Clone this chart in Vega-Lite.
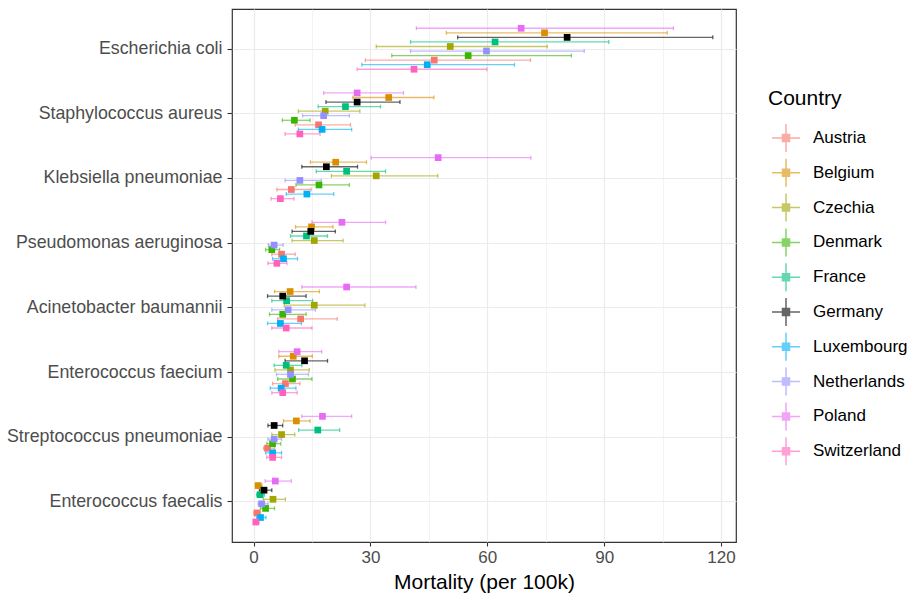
{
  "$schema": "https://vega.github.io/schema/vega-lite/v6.json",
  "width": 504,
  "height": 533,
  "autosize": {"type": "none"},
  "padding": {"left": 232, "top": 9, "right": 178, "bottom": 55},
  "background": "white",
  "config": {
    "font": "Liberation Sans",
    "view": {"stroke": "#333333", "strokeWidth": 1.2},
    "axis": {"domain": false, "tickColor": "#333333", "tickSize": 4, "tickWidth": 1.1, "labelColor": "#4D4D4D", "labelFontSize": 17, "titleFontSize": 21, "titleFontWeight": "normal", "titleColor": "#000000", "gridColor": "#EBEBEB", "labelPadding": 3}
  },
  "data": {"values": [
    {"pathogen": "Escherichia coli", "country": "Austria", "mortality": 46.4, "lower": 28.7, "upper": 71.1},
    {"pathogen": "Escherichia coli", "country": "Belgium", "mortality": 74.7, "lower": 49.5, "upper": 106.2},
    {"pathogen": "Escherichia coli", "country": "Czechia", "mortality": 50.5, "lower": 31.5, "upper": 75.4},
    {"pathogen": "Escherichia coli", "country": "Denmark", "mortality": 55.1, "lower": 35.5, "upper": 81.6},
    {"pathogen": "Escherichia coli", "country": "France", "mortality": 62.0, "lower": 40.3, "upper": 91.2},
    {"pathogen": "Escherichia coli", "country": "Germany", "mortality": 80.5, "lower": 52.4, "upper": 117.9},
    {"pathogen": "Escherichia coli", "country": "Luxembourg", "mortality": 44.6, "lower": 27.8, "upper": 67.0},
    {"pathogen": "Escherichia coli", "country": "Netherlands", "mortality": 59.8, "lower": 40.3, "upper": 84.9},
    {"pathogen": "Escherichia coli", "country": "Poland", "mortality": 68.7, "lower": 41.8, "upper": 107.8},
    {"pathogen": "Escherichia coli", "country": "Switzerland", "mortality": 41.2, "lower": 26.6, "upper": 59.9},
    {"pathogen": "Staphylococcus aureus", "country": "Austria", "mortality": 16.7, "lower": 10.7, "upper": 24.9},
    {"pathogen": "Staphylococcus aureus", "country": "Belgium", "mortality": 34.7, "lower": 25.5, "upper": 46.3},
    {"pathogen": "Staphylococcus aureus", "country": "Czechia", "mortality": 18.4, "lower": 11.5, "upper": 27.3},
    {"pathogen": "Staphylococcus aureus", "country": "Denmark", "mortality": 10.5, "lower": 7.4, "upper": 14.5},
    {"pathogen": "Staphylococcus aureus", "country": "France", "mortality": 23.6, "lower": 16.6, "upper": 32.6},
    {"pathogen": "Staphylococcus aureus", "country": "Germany", "mortality": 26.6, "lower": 18.6, "upper": 37.6},
    {"pathogen": "Staphylococcus aureus", "country": "Luxembourg", "mortality": 17.6, "lower": 11.5, "upper": 25.2},
    {"pathogen": "Staphylococcus aureus", "country": "Netherlands", "mortality": 18.0, "lower": 12.6, "upper": 24.6},
    {"pathogen": "Staphylococcus aureus", "country": "Poland", "mortality": 26.6, "lower": 18.0, "upper": 38.5},
    {"pathogen": "Staphylococcus aureus", "country": "Switzerland", "mortality": 11.9, "lower": 8.1, "upper": 17.1},
    {"pathogen": "Klebsiella pneumoniae", "country": "Austria", "mortality": 9.7, "lower": 6.0, "upper": 14.8},
    {"pathogen": "Klebsiella pneumoniae", "country": "Belgium", "mortality": 21.1, "lower": 14.6, "upper": 29.0},
    {"pathogen": "Klebsiella pneumoniae", "country": "Czechia", "mortality": 31.5, "lower": 20.0, "upper": 47.3},
    {"pathogen": "Klebsiella pneumoniae", "country": "Denmark", "mortality": 16.8, "lower": 10.9, "upper": 24.6},
    {"pathogen": "Klebsiella pneumoniae", "country": "France", "mortality": 23.9, "lower": 16.1, "upper": 33.9},
    {"pathogen": "Klebsiella pneumoniae", "country": "Germany", "mortality": 18.7, "lower": 12.4, "upper": 26.7},
    {"pathogen": "Klebsiella pneumoniae", "country": "Luxembourg", "mortality": 13.7, "lower": 8.4, "upper": 20.6},
    {"pathogen": "Klebsiella pneumoniae", "country": "Netherlands", "mortality": 11.9, "lower": 8.1, "upper": 17.4},
    {"pathogen": "Klebsiella pneumoniae", "country": "Poland", "mortality": 47.4, "lower": 30.2, "upper": 71.2},
    {"pathogen": "Klebsiella pneumoniae", "country": "Switzerland", "mortality": 6.9, "lower": 4.5, "upper": 10.4},
    {"pathogen": "Pseudomonas aeruginosa", "country": "Austria", "mortality": 7.2, "lower": 4.7, "upper": 10.7},
    {"pathogen": "Pseudomonas aeruginosa", "country": "Belgium", "mortality": 14.9, "lower": 10.8, "upper": 20.4},
    {"pathogen": "Pseudomonas aeruginosa", "country": "Czechia", "mortality": 15.6, "lower": 9.9, "upper": 23.0},
    {"pathogen": "Pseudomonas aeruginosa", "country": "Denmark", "mortality": 4.7, "lower": 3.1, "upper": 6.7},
    {"pathogen": "Pseudomonas aeruginosa", "country": "France", "mortality": 13.6, "lower": 9.5, "upper": 19.0},
    {"pathogen": "Pseudomonas aeruginosa", "country": "Germany", "mortality": 14.7, "lower": 9.9, "upper": 21.0},
    {"pathogen": "Pseudomonas aeruginosa", "country": "Luxembourg", "mortality": 7.7, "lower": 4.9, "upper": 11.3},
    {"pathogen": "Pseudomonas aeruginosa", "country": "Netherlands", "mortality": 5.3, "lower": 3.8, "upper": 7.6},
    {"pathogen": "Pseudomonas aeruginosa", "country": "Poland", "mortality": 22.7, "lower": 15.0, "upper": 33.9},
    {"pathogen": "Pseudomonas aeruginosa", "country": "Switzerland", "mortality": 6.0, "lower": 3.7, "upper": 8.6},
    {"pathogen": "Acinetobacter baumannii", "country": "Austria", "mortality": 12.1, "lower": 6.2, "upper": 21.5},
    {"pathogen": "Acinetobacter baumannii", "country": "Belgium", "mortality": 9.4, "lower": 5.4, "upper": 16.9},
    {"pathogen": "Acinetobacter baumannii", "country": "Czechia", "mortality": 15.6, "lower": 7.9, "upper": 28.6},
    {"pathogen": "Acinetobacter baumannii", "country": "Denmark", "mortality": 7.5, "lower": 4.1, "upper": 13.5},
    {"pathogen": "Acinetobacter baumannii", "country": "France", "mortality": 8.5, "lower": 4.7, "upper": 15.2},
    {"pathogen": "Acinetobacter baumannii", "country": "Germany", "mortality": 7.5, "lower": 3.6, "upper": 13.5},
    {"pathogen": "Acinetobacter baumannii", "country": "Luxembourg", "mortality": 6.9, "lower": 3.6, "upper": 12.3},
    {"pathogen": "Acinetobacter baumannii", "country": "Netherlands", "mortality": 8.9, "lower": 4.7, "upper": 15.9},
    {"pathogen": "Acinetobacter baumannii", "country": "Poland", "mortality": 23.9, "lower": 12.4, "upper": 41.7},
    {"pathogen": "Acinetobacter baumannii", "country": "Switzerland", "mortality": 8.4, "lower": 4.7, "upper": 15.0},
    {"pathogen": "Enterococcus faecium", "country": "Austria", "mortality": 8.2, "lower": 4.9, "upper": 11.9},
    {"pathogen": "Enterococcus faecium", "country": "Belgium", "mortality": 10.2, "lower": 6.5, "upper": 15.1},
    {"pathogen": "Enterococcus faecium", "country": "Czechia", "mortality": 9.5, "lower": 5.5, "upper": 14.3},
    {"pathogen": "Enterococcus faecium", "country": "Denmark", "mortality": 10.0, "lower": 6.2, "upper": 15.0},
    {"pathogen": "Enterococcus faecium", "country": "France", "mortality": 8.4, "lower": 5.3, "upper": 12.4},
    {"pathogen": "Enterococcus faecium", "country": "Germany", "mortality": 13.1, "lower": 8.1, "upper": 19.0},
    {"pathogen": "Enterococcus faecium", "country": "Luxembourg", "mortality": 7.1, "lower": 4.3, "upper": 10.9},
    {"pathogen": "Enterococcus faecium", "country": "Netherlands", "mortality": 9.5, "lower": 5.9, "upper": 14.1},
    {"pathogen": "Enterococcus faecium", "country": "Poland", "mortality": 11.2, "lower": 6.5, "upper": 17.5},
    {"pathogen": "Enterococcus faecium", "country": "Switzerland", "mortality": 7.5, "lower": 4.7, "upper": 11.2},
    {"pathogen": "Streptococcus pneumoniae", "country": "Austria", "mortality": 3.6, "lower": 2.6, "upper": 5.4},
    {"pathogen": "Streptococcus pneumoniae", "country": "Belgium", "mortality": 11.0, "lower": 7.7, "upper": 14.5},
    {"pathogen": "Streptococcus pneumoniae", "country": "Czechia", "mortality": 7.2, "lower": 4.7, "upper": 10.6},
    {"pathogen": "Streptococcus pneumoniae", "country": "Denmark", "mortality": 4.9, "lower": 3.4, "upper": 7.0},
    {"pathogen": "Streptococcus pneumoniae", "country": "France", "mortality": 16.5, "lower": 11.6, "upper": 22.1},
    {"pathogen": "Streptococcus pneumoniae", "country": "Germany", "mortality": 5.3, "lower": 3.7, "upper": 7.5},
    {"pathogen": "Streptococcus pneumoniae", "country": "Luxembourg", "mortality": 4.9, "lower": 3.1, "upper": 7.2},
    {"pathogen": "Streptococcus pneumoniae", "country": "Netherlands", "mortality": 5.3, "lower": 3.7, "upper": 7.2},
    {"pathogen": "Streptococcus pneumoniae", "country": "Poland", "mortality": 17.7, "lower": 12.4, "upper": 25.2},
    {"pathogen": "Streptococcus pneumoniae", "country": "Switzerland", "mortality": 4.9, "lower": 3.4, "upper": 7.2},
    {"pathogen": "Enterococcus faecalis", "country": "Austria", "mortality": 0.9, "lower": 0.1, "upper": 1.8},
    {"pathogen": "Enterococcus faecalis", "country": "Belgium", "mortality": 1.2, "lower": 0.5, "upper": 2.2},
    {"pathogen": "Enterococcus faecalis", "country": "Czechia", "mortality": 5.0, "lower": 2.5, "upper": 8.2},
    {"pathogen": "Enterococcus faecalis", "country": "Denmark", "mortality": 3.1, "lower": 1.8, "upper": 5.4},
    {"pathogen": "Enterococcus faecalis", "country": "France", "mortality": 1.7, "lower": 0.8, "upper": 2.8},
    {"pathogen": "Enterococcus faecalis", "country": "Germany", "mortality": 2.7, "lower": 1.5, "upper": 4.7},
    {"pathogen": "Enterococcus faecalis", "country": "Luxembourg", "mortality": 1.8, "lower": 0.8, "upper": 3.2},
    {"pathogen": "Enterococcus faecalis", "country": "Netherlands", "mortality": 2.1, "lower": 1.2, "upper": 3.7},
    {"pathogen": "Enterococcus faecalis", "country": "Poland", "mortality": 5.6, "lower": 3.0, "upper": 9.7},
    {"pathogen": "Enterococcus faecalis", "country": "Switzerland", "mortality": 0.6, "lower": 0.0, "upper": 1.4}
  ]},
  "encoding": {
    "y": {
      "field": "pathogen", "type": "nominal",
      "sort": ["Escherichia coli", "Staphylococcus aureus", "Klebsiella pneumoniae", "Pseudomonas aeruginosa", "Acinetobacter baumannii", "Enterococcus faecium", "Streptococcus pneumoniae", "Enterococcus faecalis"],
      "scale": {"paddingInner": 0, "paddingOuter": 0.12},
      "axis": {"title": null, "bandPosition": 0.5, "grid": true, "gridWidth": 1.2, "labelLimit": 0, "labelFontSize": 17.8, "tickSize": 5, "labelPadding": 5}
    },
    "yOffset": {
      "field": "country", "type": "nominal",
      "sort": ["Poland", "Belgium", "Germany", "France", "Czechia", "Netherlands", "Denmark", "Austria", "Luxembourg", "Switzerland"],
      "scale": {"type": "point", "range": [11.5, 52.5], "padding": 0}
    },
    "color": {
      "field": "country", "type": "nominal",
      "scale": {
        "domain": ["Austria", "Belgium", "Czechia", "Denmark", "France", "Germany", "Luxembourg", "Netherlands", "Poland", "Switzerland"],
        "range": ["#F8766D", "#D89000", "#A3A500", "#39B600", "#00BF7D", "#000000", "#00B0F6", "#9590FF", "#E76BF3", "#FF62BC"]
      },
      "legend": {
        "title": "Country",
        "orient": "none",
        "legendX": 536,
        "legendY": 79,
        "padding": 0,
        "titleFontSize": 21,
        "titleFontWeight": "normal",
        "titleColor": "#000000",
        "titleBaseline": "top",
        "titlePadding": 14,
        "labelFontSize": 17,
        "labelColor": "#000000",
        "labelOffset": 12,
        "symbolOffset": 3,
        "rowPadding": 0.8,
        "symbolType": "M-1,0H1M0,-1V1M-0.25,-0.25H0.25V0.25H-0.25Z",
        "symbolSize": 784,
        "symbolStrokeWidth": 1.5,
        "encode": {
          "symbols": {
            "update": {
              "stroke": {"scale": "color", "field": "value"},
              "fill": {"scale": "color", "field": "value"},
              "strokeOpacity": {"value": 0.65},
              "fillOpacity": {"value": 1},
              "opacity": {"value": 1}
            }
          }
        }
      }
    }
  },
  "layer": [
    {
      "mark": {"type": "rule", "strokeWidth": 1.3, "opacity": 0.6},
      "encoding": {
        "x": {
          "field": "lower", "type": "quantitative",
          "scale": {"domain": [-5.52, 123.85], "nice": false, "zero": false},
          "axis": {
            "title": "Mortality (per 100k)",
            "values": [0, 15, 30, 45, 60, 75, 90, 105, 120],
            "labelExpr": "datum.value % 30 === 0 ? datum.label : ''",
            "tickOpacity": {"condition": {"test": "datum.value % 30 !== 0", "value": 0}, "value": 1},
            "gridWidth": {"condition": {"test": "datum.value % 30 !== 0", "value": 0.6}, "value": 1.2},
            "titlePadding": 6
          }
        },
        "x2": {"field": "upper"}
      }
    },
    {
      "mark": {"type": "tick", "thickness": 1.3, "size": 4, "opacity": 0.6},
      "encoding": {"x": {"field": "lower", "type": "quantitative"}}
    },
    {
      "mark": {"type": "tick", "thickness": 1.3, "size": 4, "opacity": 0.6},
      "encoding": {"x": {"field": "upper", "type": "quantitative"}}
    },
    {
      "mark": {"type": "point", "shape": "square", "filled": true, "size": 45, "opacity": 1},
      "encoding": {"x": {"field": "mortality", "type": "quantitative"}}
    }
  ]
}
